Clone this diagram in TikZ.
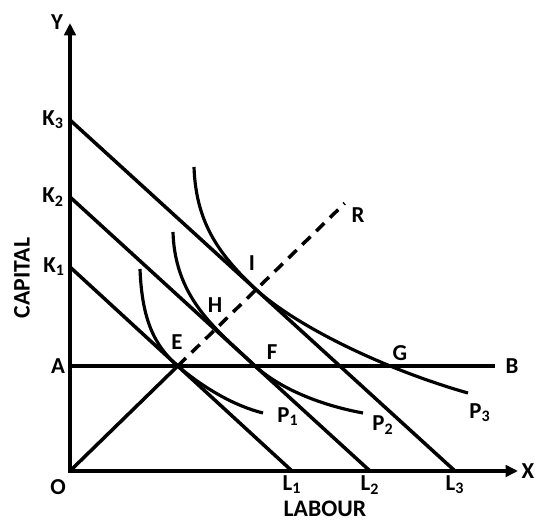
\documentclass[tikz,border=0pt]{standalone}
\usepackage{fontspec}
\setmainfont{Carlito}
\usetikzlibrary{arrows.meta,calc}

\begin{document}
\begin{tikzpicture}[x=0.02cm,y=0.02cm,
  lbl/.style={font=\fontsize{13}{15}\selectfont\bfseries,inner sep=1pt},
  ttl/.style={font=\fontsize{13.5}{15}\selectfont\bfseries,inner sep=0pt},
  axisline/.style={line width=2.4pt,line join=miter},
  budget/.style={line width=2pt},
  iso/.style={line width=1.8pt}]
  \useasboundingbox (-70,-50) rectangle (465,471);

  % Axes
  \coordinate (O) at (0,0);
  \coordinate (Ytip) at (0,448);
  \coordinate (Xtip) at (448,0);
  \draw[axisline,{Triangle[length=7pt,width=6.5pt]}-{Triangle[length=7pt,width=6.5pt]}] (Ytip) -- (O) -- (Xtip);

  % Points on the axes
  \coordinate (K1) at (0,204);
  \coordinate (K2) at (0,274);
  \coordinate (K3) at (0,351);
  \coordinate (A) at (0,105);
  \coordinate (L1) at (222,0);
  \coordinate (L2) at (300,0);
  \coordinate (L3) at (385,0);
  \coordinate (B) at (425,105);

  % Isocost lines and the line AB
  \foreach \k/\l in {K1/L1,K2/L2,K3/L3} {
    \draw[budget] (\k) -- (\l);
  }
  \draw[budget] (A) -- (B);

  % Expansion path
  \coordinate (E) at (intersection of K1--L1 and A--B);
  \coordinate (F) at (intersection of K2--L2 and A--B);
  \coordinate (R) at ($(O)!2.55!(E)$);
  \coordinate (I) at (intersection of O--R and K3--L3);
  \draw[budget] (O) -- (E);
  \draw[budget,dash pattern=on 6.5pt off 4.5pt] (E) -- (R);

  % Isoquants
  \draw[iso] (70,202) .. controls (72,150) and (85,125) .. (E)
             .. controls (135,82) and (165,65) .. (193,58);
  \draw[iso] (103,239) .. controls (105,170) and (150,139) .. (F)
             .. controls (213,80) and (255,65) .. (293,58);
  \draw[iso] (124,304) .. controls (126,245) and (152,214) .. (I)
             .. controls (230,142) and (320,100) .. (398,78);

  % Labels
  \node[lbl] (ylab) at (-13,449) {Y};
  \node[lbl] (xlab) at (458,0) {X};
  \node[lbl] (olab) at (-12,-16) {O};
  \node[lbl] (k1lab) at (-16,204) {K\textsubscript{1}};
  \node[lbl] (k2lab) at (-17,274) {K\textsubscript{2}};
  \node[lbl] (k3lab) at (-17,351) {K\textsubscript{3}};
  \node[lbl] (alab) at (-12,105) {A};
  \node[lbl] (blab) at (442,105) {B};
  \node[lbl] (l1lab) at (222,-14) {L\textsubscript{1}};
  \node[lbl] (l2lab) at (300,-14) {L\textsubscript{2}};
  \node[lbl] (l3lab) at (385,-14) {L\textsubscript{3}};
  \node[lbl] (elab) at (107,129) {E};
  \node[lbl] (hlab) at (145,166) {H};
  \node[lbl] (ilab) at (182,208) {I};
  \node[lbl] (flab) at (202,119) {F};
  \node[lbl] (glab) at (330,118) {G};
  \node[lbl] (rlab) at (288,256) {R};
  \node[lbl] (p1lab) at (218,54) {P\textsubscript{1}};
  \node[lbl] (p2lab) at (313,46) {P\textsubscript{2}};
  \node[lbl] (p3lab) at (410,58) {P\textsubscript{3}};
  \node[ttl] (labour) at (255,-38) {LABOUR};
  \node[ttl,rotate=90] (capital) at (-48,193) {CAPITAL};
\end{tikzpicture}
\end{document}
